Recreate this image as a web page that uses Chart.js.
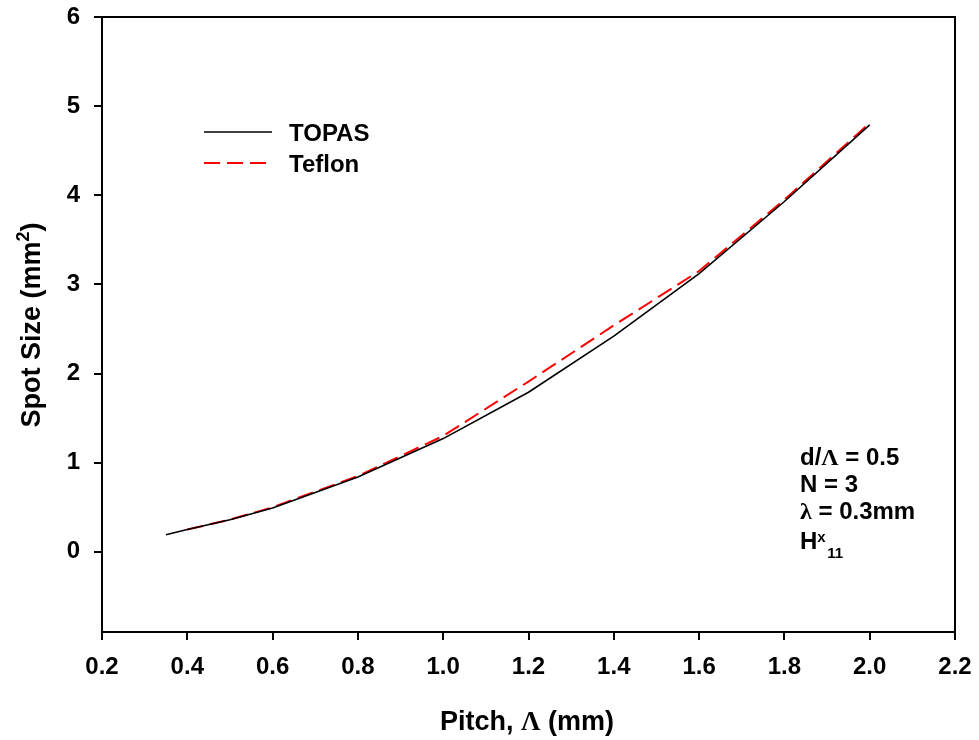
<!DOCTYPE html>
<html>
<head>
<meta charset="utf-8">
<script src="https://cdn.jsdelivr.net/npm/chart.js@4.4.0/dist/chart.umd.min.js"></script>
<style>
  html, body { margin: 0; padding: 0; background: #fff; }
  canvas { display: block; }
</style>
</head>
<body>
<canvas id="spotChart" width="979" height="740"></canvas>
<script>
// Spot size vs pitch for the two fibre materials
const pitchTopas  = [0.35, 0.4, 0.5, 0.6, 0.8, 1.0, 1.2, 1.4, 1.6, 1.8, 2.0];
const spotTopas   = [0.19, 0.25, 0.36, 0.49, 0.84, 1.27, 1.79, 2.42, 3.12, 3.93, 4.79];
const pitchTeflon = [0.4, 0.5, 0.6, 0.8, 1.0, 1.2, 1.4, 1.6, 1.8, 2.0];
const spotTeflon  = [0.25, 0.36, 0.50, 0.85, 1.30, 1.91, 2.54, 3.15, 3.95, 4.81];

const xTicks = [0.2, 0.4, 0.6, 0.8, 1.0, 1.2, 1.4, 1.6, 1.8, 2.0, 2.2];
const yTicks = [0, 1, 2, 3, 4, 5, 6];

const SANS = '"Liberation Sans", Arial, Helvetica, sans-serif';
const SERIF = '"Liberation Serif", "Times New Roman", serif';

const toPoints = (xs, ys) => xs.map((x, i) => ({ x: x, y: ys[i] }));

// draw a row of text runs, each with its own font and vertical shift
function drawRuns(ctx, x, y, runs) {
    ctx.textBaseline = 'alphabetic';
    ctx.textAlign = 'left';
    runs.forEach(r => {
        ctx.font = r.font;
        ctx.fillText(r.text, x, y + (r.dy || 0));
        x += ctx.measureText(r.text).width;
    });
    return x;
}

function runsWidth(ctx, runs) {
    let w = 0;
    runs.forEach(r => { ctx.font = r.font; w += ctx.measureText(r.text).width; });
    return w;
}

const decorPlugin = {
    id: 'decor',
    afterDraw(chart) {
        const ctx = chart.ctx;
        const a = chart.chartArea;
        ctx.save();

        // box around the plot
        ctx.strokeStyle = '#000';
        ctx.lineWidth = 2;
        ctx.strokeRect(a.left, a.top, a.right - a.left, a.bottom - a.top);

        ctx.fillStyle = '#000';
        const b24 = 'bold 24px ' + SANS;
        const s24 = 'bold 24px ' + SERIF;

        // legend
        chart.data.datasets.forEach((ds, i) => {
            const y = 132 + i * 31;
            ctx.beginPath();
            ctx.strokeStyle = ds.borderColor;
            ctx.lineWidth = ds.borderWidth;
            ctx.setLineDash(ds.borderDash || []);
            ctx.moveTo(204, y);
            ctx.lineTo(272, y);
            ctx.stroke();
            ctx.setLineDash([]);
            ctx.fillStyle = '#000';
            drawRuns(ctx, 289, y + 9, [{ text: ds.label, font: b24 }]);
        });

        // parameter block
        const px = 800;
        drawRuns(ctx, px, 465, [
            { text: 'd/', font: b24 }, { text: 'Λ', font: s24 }, { text: ' = 0.5', font: b24 }
        ]);
        drawRuns(ctx, px, 492, [{ text: 'N = 3', font: b24 }]);
        drawRuns(ctx, px, 519, [
            { text: 'λ', font: s24 }, { text: ' = 0.3mm', font: b24 }
        ]);
        const hx = drawRuns(ctx, px, 549, [{ text: 'H', font: b24 }]);
        drawRuns(ctx, hx, 542, [{ text: 'x', font: 'bold 15px ' + SANS }]);
        drawRuns(ctx, hx + 10, 558, [{ text: '11', font: 'bold 15px ' + SANS }]);

        // x axis title
        const xt = [
            { text: 'Pitch, ', font: 'bold 27px ' + SANS },
            { text: 'Λ', font: 'bold 27px ' + SERIF },
            { text: ' (mm)', font: 'bold 27px ' + SANS }
        ];
        drawRuns(ctx, 527 - runsWidth(ctx, xt) / 2, 730, xt);

        // y axis title, rotated
        const yt = [
            { text: 'Spot Size (mm', font: 'bold 27px ' + SANS },
            { text: '2', font: 'bold 18px ' + SANS, dy: -11 },
            { text: ')', font: 'bold 27px ' + SANS }
        ];
        ctx.translate(40, 325);
        ctx.rotate(-Math.PI / 2);
        drawRuns(ctx, -runsWidth(ctx, yt) / 2, 0, yt);

        ctx.restore();
    }
};

new Chart(document.getElementById('spotChart'), {
    type: 'line',
    data: {
        datasets: [
            {
                label: 'TOPAS',
                data: toPoints(pitchTopas, spotTopas),
                borderColor: '#000000',
                borderWidth: 1.6,
                pointRadius: 0,
                tension: 0,
                fill: false
            },
            {
                label: 'Teflon',
                data: toPoints(pitchTeflon, spotTeflon),
                borderColor: '#ff0000',
                borderWidth: 2,
                borderDash: [16, 7],
                pointRadius: 0,
                tension: 0,
                fill: false
            }
        ]
    },
    options: {
        responsive: false,
        animation: false,
        layout: { padding: { top: 17, right: 24, left: 0, bottom: 0 } },
        plugins: {
            legend: { display: false },
            tooltip: { enabled: false }
        },
        scales: {
            x: {
                type: 'linear',
                min: 0.2,
                max: 2.2,
                afterBuildTicks: s => { s.ticks = xTicks.map(v => ({ value: v })); },
                afterFit: s => { s.height = 108; s.paddingLeft = 0; s.paddingRight = 0; },
                border: { display: true, color: '#000', width: 2 },
                grid: { drawOnChartArea: false, drawTicks: true, tickLength: 8, color: '#000', lineWidth: 2 },
                ticks: {
                    color: '#000',
                    padding: 13,
                    maxRotation: 0,
                    font: { family: SANS, size: 24, weight: 'bold' },
                    callback: v => Number(v).toFixed(1)
                }
            },
            y: {
                type: 'linear',
                min: -0.9,
                max: 6,
                afterBuildTicks: s => { s.ticks = yTicks.map(v => ({ value: v })); },
                afterFit: s => { s.width = 102; s.paddingTop = 0; s.paddingBottom = 0; },
                border: { display: true, color: '#000', width: 2 },
                grid: { drawOnChartArea: false, drawTicks: true, tickLength: 8, color: '#000', lineWidth: 2 },
                ticks: {
                    color: '#000',
                    padding: 14,
                    font: { family: SANS, size: 24, weight: 'bold' },
                    callback: v => String(v)
                }
            }
        }
    },
    plugins: [decorPlugin]
});
</script>
</body>
</html>
